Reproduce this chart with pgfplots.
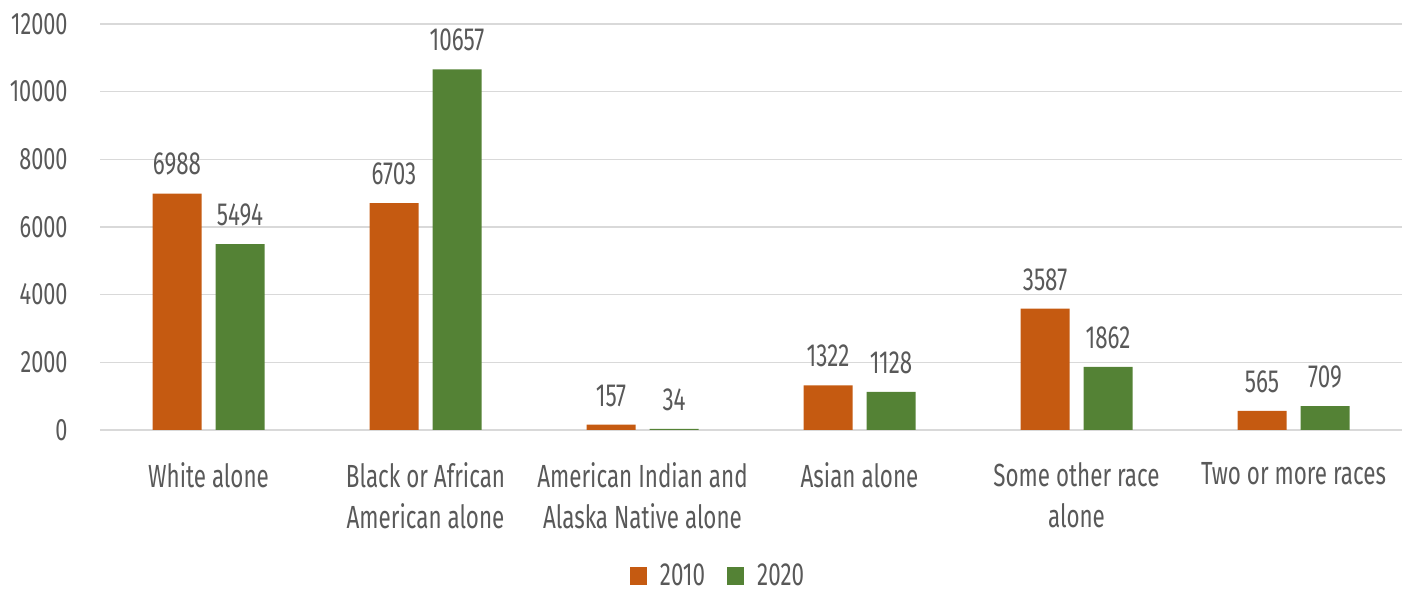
\documentclass[border=0pt]{standalone}
\usepackage{fontspec}
\setmainfont{Fira Sans}[FakeStretch=0.7]
\usepackage{pgfplots}
\pgfplotsset{compat=1.18}
\definecolor{cOrange}{HTML}{C55A11}
\definecolor{cGreen}{HTML}{548235}
\definecolor{cText}{HTML}{595959}
\definecolor{cGrid}{HTML}{D9D9D9}
\begin{document}
\begin{tikzpicture}
\path[use as bounding box] (-50pt,-81pt) rectangle (655.5pt,215pt);
\begin{axis}[
  at={(0pt,0pt)}, anchor=south west,
  scale only axis,
  width=651pt, height=203pt,
  xmin=-0.5, xmax=5.5, ymin=0, ymax=12000,
  ybar=7pt, bar width=24.5pt,
  axis line style={draw=none},
  major tick length=0pt,
  scaled y ticks=false,
  ytick={0,2000,4000,6000,8000,10000,12000},
  ymajorgrids, major grid style={cGrid, line width=0.8pt},
  xtick={0,1,2,3,4,5},
  xticklabels={White alone, Black or African\\American alone, American Indian and\\Alaska Native alone, Asian alone, Some other race\\alone, Two or more races},
  xticklabel style={font=\fontsize{16}{20.5}\selectfont, text=cText, align=center, anchor=north, inner sep=0pt, yshift=-16pt},
  yticklabel style={font=\fontsize{15.5}{16}\selectfont, text=cText, anchor=east, inner sep=0pt, xshift=-16pt},
  /pgf/number format/assume math mode=true,
  /pgf/number format/1000 sep={},
  nodes near coords,
  nodes near coords style={font=\fontsize{16}{16}\selectfont, text=cText, /pgf/number format/1000 sep={}, yshift=5.5pt},
  legend style={draw=none, at={(0.5,0)}, anchor=center, yshift=-73pt, xshift=-16pt, font=\fontsize{16}{16}\selectfont, text=cText, legend columns=2,
    /tikz/every even column/.append style={column sep=9pt},
    /tikz/every odd column/.append style={column sep=4.5pt}},
  legend image code/.code={\fill[#1] (0pt,-4.3pt) rectangle (8.5pt,4.3pt);},
]
\addplot[fill=cOrange, draw=none] coordinates {(0,6988) (1,6703) (2,157) (3,1322) (4,3587) (5,565)};
\addplot[fill=cGreen, draw=none] coordinates {(0,5494) (1,10657) (2,34) (3,1128) (4,1862) (5,709)};
\legend{2010, 2020}
\end{axis}
\end{tikzpicture}
\end{document}
